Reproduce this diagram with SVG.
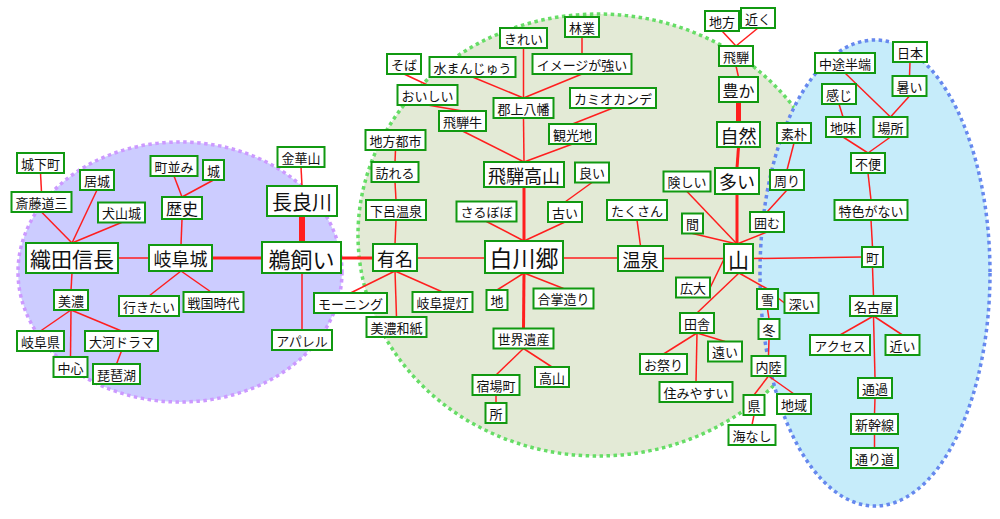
<svg xmlns="http://www.w3.org/2000/svg" width="1000" height="519" viewBox="0 0 1000 519">
<style>
.bg{fill:#fff}
.e1{fill:#ccccff;stroke:#cc99ff;stroke-width:3.5;stroke-dasharray:3.5 3.5}
.e2{fill:#e3ead6;stroke:#66dd66;stroke-width:3.5;stroke-dasharray:3.5 3.5}
.e3{fill:#c6ecfa;stroke:#6688ee;stroke-width:3.5;stroke-dasharray:3.5 3.5}
#edges line{stroke:#ff1e1e;stroke-width:1.5;fill:none}
#edges line.t3{stroke-width:3}
#edges line.t5{stroke-width:5}
#edges line.t6{stroke-width:6}
.node rect{fill:#fff;stroke:#119911;stroke-width:2}
.node text{font-family:"Noto Sans CJK JP","Noto Sans CJK SC",sans-serif;font-size:13px;fill:#111;text-anchor:middle;dominant-baseline:central}
</style>
<rect class="bg" x="0" y="0" width="1000" height="519"/>
<g id="regions">
<ellipse class="e1" cx="180" cy="272" rx="162" ry="130"/>
<ellipse class="e2" cx="598" cy="235" rx="240" ry="221"/>
<ellipse class="e3" cx="875" cy="273" rx="115" ry="233"/>
</g>
<g id="edges">
<line x1="40.5" y1="173" x2="41.5" y2="192"/>
<line x1="41.5" y1="212" x2="72" y2="243"/>
<line x1="97" y1="190" x2="72" y2="243"/>
<line x1="121.5" y1="222.5" x2="72" y2="243"/>
<line x1="174" y1="176" x2="182" y2="197"/>
<line x1="213.5" y1="180" x2="182" y2="197"/>
<line x1="182" y1="219" x2="181" y2="245"/>
<line x1="118" y1="258" x2="149" y2="258"/>
<line class="t3" x1="212" y1="258" x2="262" y2="258"/>
<line x1="72" y1="273" x2="71" y2="290"/>
<line x1="181" y1="271" x2="149" y2="296"/>
<line x1="181" y1="271" x2="211" y2="292"/>
<line x1="71" y1="310" x2="40.5" y2="331"/>
<line x1="71" y1="310" x2="70.5" y2="357"/>
<line x1="71" y1="310" x2="121.5" y2="331"/>
<line x1="121.5" y1="351" x2="116.5" y2="364"/>
<line x1="301" y1="167" x2="302" y2="186"/>
<line class="t6" x1="302" y1="216" x2="302" y2="242"/>
<line x1="302" y1="273" x2="302" y2="330"/>
<line class="t3" x1="341" y1="258" x2="373" y2="258"/>
<line x1="395.5" y1="150" x2="395" y2="162"/>
<line x1="395" y1="182" x2="396" y2="200"/>
<line x1="396" y1="220" x2="395" y2="244"/>
<line x1="395" y1="271" x2="350.5" y2="293"/>
<line x1="395" y1="271" x2="442.5" y2="292"/>
<line x1="395" y1="271" x2="396.5" y2="317"/>
<line x1="417" y1="258" x2="485" y2="258"/>
<line x1="523.5" y1="48" x2="523.5" y2="98"/>
<line x1="582" y1="37" x2="582" y2="54"/>
<line x1="404" y1="74" x2="427.5" y2="85"/>
<line x1="472.5" y1="77" x2="523.5" y2="98"/>
<line x1="582" y1="74" x2="523.5" y2="98"/>
<line x1="427.5" y1="105" x2="462.5" y2="111"/>
<line x1="613" y1="108" x2="572.5" y2="124"/>
<line x1="523.5" y1="118" x2="524" y2="162"/>
<line x1="462.5" y1="131" x2="524" y2="162"/>
<line x1="572.5" y1="144" x2="524" y2="162"/>
<line class="t3" x1="524" y1="187" x2="524" y2="241"/>
<line x1="592" y1="182.5" x2="565" y2="202"/>
<line x1="486.5" y1="221.5" x2="524" y2="241"/>
<line x1="565" y1="222" x2="524" y2="241"/>
<line x1="563" y1="258" x2="618" y2="258"/>
<line x1="637" y1="220" x2="640.5" y2="246"/>
<line x1="524" y1="273" x2="497" y2="290"/>
<line x1="524" y1="273" x2="563.5" y2="288.5"/>
<line class="t3" x1="524" y1="273" x2="523.5" y2="328.5"/>
<line x1="523.5" y1="348.5" x2="496" y2="375"/>
<line x1="523.5" y1="348.5" x2="552" y2="367"/>
<line x1="496" y1="395" x2="496" y2="403"/>
<line x1="663" y1="258.5" x2="724" y2="258.5"/>
<line x1="722" y1="31" x2="736" y2="46"/>
<line x1="758" y1="28" x2="736" y2="46"/>
<line x1="736" y1="66" x2="738.5" y2="77"/>
<line class="t5" x1="738.5" y1="102" x2="738.5" y2="122"/>
<line class="t3" x1="738.5" y1="147" x2="737" y2="168"/>
<line class="t3" x1="737" y1="194" x2="737" y2="244"/>
<line x1="687" y1="191.5" x2="737" y2="244"/>
<line x1="692.5" y1="233.5" x2="737" y2="244"/>
<line x1="767" y1="232" x2="737" y2="244"/>
<line x1="794" y1="143" x2="787" y2="170"/>
<line x1="787" y1="190" x2="767" y2="212"/>
<line x1="709" y1="290" x2="724" y2="259"/>
<line x1="739" y1="273" x2="697" y2="313"/>
<line x1="739" y1="273" x2="767.5" y2="289"/>
<line x1="778" y1="298" x2="784.5" y2="303"/>
<line x1="767.5" y1="309" x2="769" y2="319"/>
<line x1="769" y1="339" x2="768.5" y2="356"/>
<line x1="768.5" y1="376" x2="754" y2="395"/>
<line x1="768.5" y1="376" x2="794" y2="394"/>
<line x1="754" y1="415" x2="752" y2="425"/>
<line x1="697" y1="333" x2="663.5" y2="354"/>
<line x1="697" y1="333" x2="725" y2="341.5"/>
<line x1="697" y1="333" x2="696" y2="382"/>
<line x1="753" y1="258.5" x2="862" y2="257"/>
<line x1="910" y1="62" x2="909.5" y2="76"/>
<line x1="845" y1="73" x2="890.5" y2="117"/>
<line x1="909.5" y1="96" x2="890.5" y2="117"/>
<line x1="839" y1="104" x2="843" y2="117"/>
<line x1="843" y1="137" x2="868" y2="153"/>
<line x1="890.5" y1="137" x2="868" y2="153"/>
<line x1="868" y1="173" x2="871" y2="200"/>
<line x1="871" y1="220" x2="872.5" y2="247"/>
<line x1="872.5" y1="267" x2="873.5" y2="296"/>
<line x1="873.5" y1="316" x2="840" y2="335"/>
<line x1="873.5" y1="316" x2="902.5" y2="335"/>
<line x1="873.5" y1="316" x2="875" y2="378"/>
<line x1="875" y1="398" x2="874.5" y2="414"/>
<line x1="874.5" y1="434" x2="874.5" y2="448"/>
</g>
<g id="n_joukamachi" class="node"><rect x="17" y="153" width="47" height="20"/><text x="40.5" y="163">城下町</text></g>
<g id="n_saito" class="node"><rect x="11.5" y="192" width="60" height="20"/><text x="41.5" y="202">斎藤道三</text></g>
<g id="n_kyojou" class="node"><rect x="80" y="170" width="34" height="20"/><text x="97" y="180">居城</text></g>
<g id="n_inuyama" class="node"><rect x="98" y="202.5" width="47" height="20"/><text x="121.5" y="212.5">犬山城</text></g>
<g id="n_machinami" class="node"><rect x="150.5" y="156" width="47" height="20"/><text x="174" y="166">町並み</text></g>
<g id="n_shiro" class="node"><rect x="203" y="160" width="21" height="20"/><text x="213.5" y="170">城</text></g>
<g id="n_rekishi" class="node"><rect x="162" y="197" width="40" height="22"/><text x="182" y="208" style="font-size:16px">歴史</text></g>
<g id="n_oda" class="node"><rect x="26" y="243" width="92" height="30"/><text x="72" y="258" style="font-size:21px">織田信長</text></g>
<g id="n_gifujou" class="node"><rect x="149" y="245" width="63" height="26"/><text x="180.5" y="258" style="font-size:18px">岐阜城</text></g>
<g id="n_mino" class="node"><rect x="54" y="290" width="34" height="20"/><text x="71" y="300">美濃</text></g>
<g id="n_ikitai" class="node"><rect x="119" y="296" width="60" height="20"/><text x="149" y="306">行きたい</text></g>
<g id="n_sengoku" class="node"><rect x="183.5" y="292" width="60" height="20"/><text x="213.5" y="302">戦国時代</text></g>
<g id="n_gifuken" class="node"><rect x="17" y="331" width="47" height="20"/><text x="40.5" y="341">岐阜県</text></g>
<g id="n_taiga" class="node"><rect x="85" y="331" width="73" height="20"/><text x="121.5" y="341">大河ドラマ</text></g>
<g id="n_chushin" class="node"><rect x="53.5" y="357" width="34" height="20"/><text x="70.5" y="367">中心</text></g>
<g id="n_biwako" class="node"><rect x="93" y="364" width="47" height="20"/><text x="116.5" y="374">琵琶湖</text></g>
<g id="n_kinkazan" class="node"><rect x="277.5" y="147" width="47" height="20"/><text x="301" y="157">金華山</text></g>
<g id="n_nagaragawa" class="node"><rect x="267" y="186" width="70" height="30"/><text x="302" y="201" style="font-size:20px">長良川</text></g>
<g id="n_ukai" class="node"><rect x="262" y="242" width="79" height="31"/><text x="301.5" y="257.5" style="font-size:22px">鵜飼い</text></g>
<g id="n_apparel" class="node"><rect x="272" y="330" width="60" height="20"/><text x="302" y="340">アパレル</text></g>
<g id="n_chihoutoshi" class="node"><rect x="365.5" y="130" width="60" height="20"/><text x="395.5" y="140">地方都市</text></g>
<g id="n_otozureru" class="node"><rect x="371.5" y="162" width="47" height="20"/><text x="395" y="172">訪れる</text></g>
<g id="n_gero" class="node"><rect x="366" y="200" width="60" height="20"/><text x="396" y="210">下呂温泉</text></g>
<g id="n_yuumei" class="node"><rect x="373" y="244" width="44" height="27"/><text x="395" y="257.5" style="font-size:18px">有名</text></g>
<g id="n_morning" class="node"><rect x="314" y="293" width="73" height="20"/><text x="350.5" y="303">モーニング</text></g>
<g id="n_chouchin" class="node"><rect x="412.5" y="292" width="60" height="20"/><text x="442.5" y="302">岐阜提灯</text></g>
<g id="n_washi" class="node"><rect x="366.5" y="317" width="60" height="20"/><text x="396.5" y="327">美濃和紙</text></g>
<g id="n_kirei" class="node"><rect x="500" y="28" width="47" height="20"/><text x="523.5" y="38">きれい</text></g>
<g id="n_ringyou" class="node"><rect x="565" y="17" width="34" height="20"/><text x="582" y="27">林業</text></g>
<g id="n_soba" class="node"><rect x="387" y="54" width="34" height="20"/><text x="404" y="64">そば</text></g>
<g id="n_mizumanju" class="node"><rect x="429.5" y="57" width="86" height="20"/><text x="472.5" y="67">水まんじゅう</text></g>
<g id="n_image" class="node"><rect x="532.5" y="54" width="99" height="20"/><text x="582" y="64">イメージが強い</text></g>
<g id="n_oishii" class="node"><rect x="397.5" y="85" width="60" height="20"/><text x="427.5" y="95">おいしい</text></g>
<g id="n_kamiokande" class="node"><rect x="570" y="88" width="86" height="20"/><text x="613" y="98">カミオカンデ</text></g>
<g id="n_gujou" class="node"><rect x="493.5" y="98" width="60" height="20"/><text x="523.5" y="108">郡上八幡</text></g>
<g id="n_hidagyu" class="node"><rect x="439" y="111" width="47" height="20"/><text x="462.5" y="121">飛騨牛</text></g>
<g id="n_kankouchi" class="node"><rect x="549" y="124" width="47" height="20"/><text x="572.5" y="134">観光地</text></g>
<g id="n_takayama" class="node"><rect x="484" y="162" width="80" height="25"/><text x="524" y="174.5" style="font-size:18px">飛騨高山</text></g>
<g id="n_yoi" class="node"><rect x="575" y="162.5" width="34" height="20"/><text x="592" y="172.5">良い</text></g>
<g id="n_sarubobo" class="node"><rect x="456.5" y="201.5" width="60" height="20"/><text x="486.5" y="211.5">さるぼぼ</text></g>
<g id="n_furui" class="node"><rect x="548" y="202" width="34" height="20"/><text x="565" y="212">古い</text></g>
<g id="n_takusan" class="node"><rect x="607" y="200" width="60" height="20"/><text x="637" y="210">たくさん</text></g>
<g id="n_shirakawa" class="node"><rect x="485" y="241" width="78" height="32"/><text x="524" y="257" style="font-size:23px">白川郷</text></g>
<g id="n_onsen" class="node"><rect x="618" y="246" width="45" height="25"/><text x="640.5" y="258.5" style="font-size:18px">温泉</text></g>
<g id="n_chi" class="node"><rect x="486.5" y="290" width="21" height="20"/><text x="497" y="300">地</text></g>
<g id="n_gassho" class="node"><rect x="533.5" y="288.5" width="60" height="20"/><text x="563.5" y="298.5">合掌造り</text></g>
<g id="n_sekaiisan" class="node"><rect x="493.5" y="328.5" width="60" height="20"/><text x="523.5" y="338.5">世界遺産</text></g>
<g id="n_shukuba" class="node"><rect x="472.5" y="375" width="47" height="20"/><text x="496" y="385">宿場町</text></g>
<g id="n_takayama2" class="node"><rect x="535" y="367" width="34" height="20"/><text x="552" y="377">高山</text></g>
<g id="n_tokoro" class="node"><rect x="485.5" y="403" width="21" height="20"/><text x="496" y="413">所</text></g>
<g id="n_chihou" class="node"><rect x="705" y="11" width="34" height="20"/><text x="722" y="21">地方</text></g>
<g id="n_chikaku" class="node"><rect x="741" y="8" width="34" height="20"/><text x="758" y="18">近く</text></g>
<g id="n_hida" class="node"><rect x="719" y="46" width="34" height="20"/><text x="736" y="56">飛騨</text></g>
<g id="n_yutaka" class="node"><rect x="719" y="77" width="39" height="25"/><text x="738.5" y="89.5" style="font-size:16px">豊か</text></g>
<g id="n_shizen" class="node"><rect x="717" y="122" width="43" height="25"/><text x="738.5" y="134.5" style="font-size:18px">自然</text></g>
<g id="n_ooi" class="node"><rect x="715" y="168" width="44" height="26"/><text x="737" y="181" style="font-size:18px">多い</text></g>
<g id="n_kewashii" class="node"><rect x="663.5" y="171.5" width="47" height="20"/><text x="687" y="181.5">険しい</text></g>
<g id="n_aida" class="node"><rect x="682" y="213.5" width="21" height="20"/><text x="692.5" y="223.5">間</text></g>
<g id="n_yama" class="node"><rect x="724" y="244" width="29" height="29"/><text x="738.5" y="258.5" style="font-size:21px">山</text></g>
<g id="n_koudai" class="node"><rect x="676" y="277.5" width="34" height="20"/><text x="693" y="287.5">広大</text></g>
<g id="n_inaka" class="node"><rect x="680" y="313" width="34" height="20"/><text x="697" y="323">田舎</text></g>
<g id="n_omatsuri" class="node"><rect x="640" y="354" width="47" height="20"/><text x="663.5" y="364">お祭り</text></g>
<g id="n_tooi" class="node"><rect x="708" y="341.5" width="34" height="20"/><text x="725" y="351.5">遠い</text></g>
<g id="n_sumiyasui" class="node"><rect x="659.5" y="382" width="73" height="20"/><text x="696" y="392">住みやすい</text></g>
<g id="n_yuki" class="node"><rect x="757" y="289" width="21" height="20"/><text x="767.5" y="299">雪</text></g>
<g id="n_fukai" class="node"><rect x="784.5" y="293" width="34" height="20"/><text x="801.5" y="303">深い</text></g>
<g id="n_fuyu" class="node"><rect x="758.5" y="319" width="21" height="20"/><text x="769" y="329">冬</text></g>
<g id="n_nairiku" class="node"><rect x="751.5" y="356" width="34" height="20"/><text x="768.5" y="366">内陸</text></g>
<g id="n_ken" class="node"><rect x="743.5" y="395" width="21" height="20"/><text x="754" y="405">県</text></g>
<g id="n_chiiki" class="node"><rect x="777" y="394" width="34" height="20"/><text x="794" y="404">地域</text></g>
<g id="n_uminashi" class="node"><rect x="728.5" y="425" width="47" height="20"/><text x="752" y="435">海なし</text></g>
<g id="n_soboku" class="node"><rect x="777" y="123" width="34" height="20"/><text x="794" y="133">素朴</text></g>
<g id="n_mawari" class="node"><rect x="770" y="170" width="34" height="20"/><text x="787" y="180">周り</text></g>
<g id="n_kakomu" class="node"><rect x="750" y="212" width="34" height="20"/><text x="767" y="222">囲む</text></g>
<g id="n_nihon" class="node"><rect x="893" y="42" width="34" height="20"/><text x="910" y="52">日本</text></g>
<g id="n_chuto" class="node"><rect x="815" y="53" width="60" height="20"/><text x="845" y="63">中途半端</text></g>
<g id="n_atsui" class="node"><rect x="892.5" y="76" width="34" height="20"/><text x="909.5" y="86">暑い</text></g>
<g id="n_kanji" class="node"><rect x="822" y="84" width="34" height="20"/><text x="839" y="94">感じ</text></g>
<g id="n_jimi" class="node"><rect x="826" y="117" width="34" height="20"/><text x="843" y="127">地味</text></g>
<g id="n_basho" class="node"><rect x="873.5" y="117" width="34" height="20"/><text x="890.5" y="127">場所</text></g>
<g id="n_fuben" class="node"><rect x="851" y="153" width="34" height="20"/><text x="868" y="163">不便</text></g>
<g id="n_tokushoku" class="node"><rect x="834.5" y="200" width="73" height="20"/><text x="871" y="210">特色がない</text></g>
<g id="n_machi" class="node"><rect x="862" y="247" width="21" height="20"/><text x="872.5" y="257">町</text></g>
<g id="n_nagoya" class="node"><rect x="850" y="296" width="47" height="20"/><text x="873.5" y="306">名古屋</text></g>
<g id="n_access" class="node"><rect x="810" y="335" width="60" height="20"/><text x="840" y="345">アクセス</text></g>
<g id="n_chikai" class="node"><rect x="885.5" y="335" width="34" height="20"/><text x="902.5" y="345">近い</text></g>
<g id="n_tsuuka" class="node"><rect x="858" y="378" width="34" height="20"/><text x="875" y="388">通過</text></g>
<g id="n_shinkansen" class="node"><rect x="851" y="414" width="47" height="20"/><text x="874.5" y="424">新幹線</text></g>
<g id="n_tooridou" class="node"><rect x="851" y="448" width="47" height="20"/><text x="874.5" y="458">通り道</text></g>
</svg>
